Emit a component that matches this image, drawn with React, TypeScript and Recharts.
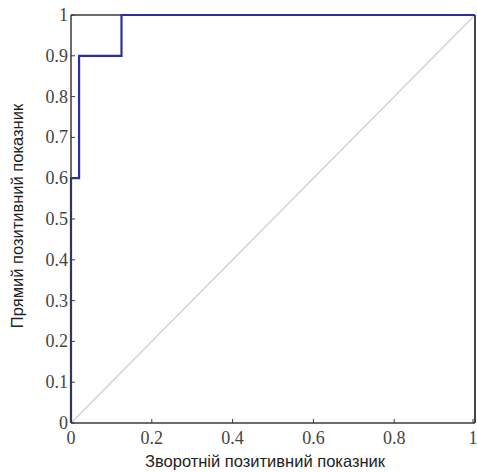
import React from "react";
import { LineChart, Line, XAxis, YAxis, ReferenceLine } from "recharts";

const rocX = [0, 0, 0.02, 0.02, 0.125, 0.125, 1];
const rocY = [0, 0.6, 0.6, 0.9, 0.9, 1, 1];
const diagX = [0, 1];
const diagY = [0, 1];
const xTicks = [0, 0.2, 0.4, 0.6, 0.8, 1];
const yTicks = [0, 0.1, 0.2, 0.3, 0.4, 0.5, 0.6, 0.7, 0.8, 0.9, 1];
const xLabel = "Зворотній позитивний показник";
const yLabel = "Прямий позитивний показник";

const rocData = rocX.map((x, i) => ({ x, y: rocY[i] }));
const diagData = diagX.map((x, i) => ({ x, y: diagY[i] }));

const AXIS = "#3a3a3a";
const SERIF = "Liberation Serif, Times New Roman, DejaVu Serif, serif";
const SANS = "Liberation Sans, Arial, sans-serif";

const fmt = (v: number) => String(v);

const renderBottomTick = (props: any) => {
  const { x, y, payload } = props;
  return (
    <g>
      <line x1={x} x2={x} y1={y} y2={y - 4} stroke={AXIS} strokeWidth={1} />
      <text x={x} y={y + 21} textAnchor="middle" style={{ fontFamily: SERIF, fontSize: 18 }} fill="#444">
        {fmt(payload.value)}
      </text>
    </g>
  );
};

const renderLeftTick = (props: any) => {
  const { x, y, payload } = props;
  return (
    <g>
      <line x1={x} x2={x + 4} y1={y} y2={y} stroke={AXIS} strokeWidth={1} />
      <text x={x - 3} y={y + 6} textAnchor="end" style={{ fontFamily: SERIF, fontSize: 18 }} fill="#444">
        {fmt(payload.value)}
      </text>
    </g>
  );
};

const renderTopTick = (props: any) => {
  const { x, y } = props;
  return <line x1={x} x2={x} y1={y} y2={y + 4} stroke={AXIS} strokeWidth={1} />;
};

const renderRightTick = (props: any) => {
  const { x, y } = props;
  return <line x1={x} x2={x - 4} y1={y} y2={y} stroke={AXIS} strokeWidth={1} />;
};

export default function App() {
  return (
    <div style={{ position: "absolute", left: 0, top: 0, width: 477, height: 472, background: "#fff" }}>
      <LineChart width={477} height={472} margin={{ top: 15, right: 1, bottom: 19, left: 31 }}>
        <XAxis
          xAxisId="b"
          type="number"
          dataKey="x"
          domain={[0, 1]}
          ticks={xTicks}
          height={30}
          tickSize={0}
          tickMargin={0}
          tick={renderBottomTick}
          stroke={AXIS}
          strokeWidth={1.5}
        />
        <XAxis
          xAxisId="t"
          orientation="top"
          type="number"
          dataKey="x"
          domain={[0, 1]}
          ticks={xTicks}
          height={0}
          tickSize={0}
          tickMargin={0}
          tick={renderTopTick}
          stroke={AXIS}
          strokeWidth={1.5}
        />
        <YAxis
          yAxisId="l"
          type="number"
          domain={[0, 1]}
          ticks={yTicks}
          width={40}
          tickSize={0}
          tickMargin={0}
          tick={renderLeftTick}
          stroke={AXIS}
          strokeWidth={1.5}
        />
        <YAxis
          yAxisId="r"
          orientation="right"
          type="number"
          domain={[0, 1]}
          ticks={yTicks}
          width={1}
          tickSize={0}
          tickMargin={0}
          tick={renderRightTick}
          stroke={AXIS}
          strokeWidth={1.5}
        />
        <ReferenceLine xAxisId="b" yAxisId="l" x={1} stroke={AXIS} strokeWidth={1.5} />
        <ReferenceLine xAxisId="b" yAxisId="l" y={1} stroke={AXIS} strokeWidth={1.5} />
        <Line
          xAxisId="b"
          yAxisId="l"
          data={diagData}
          dataKey="y"
          type="linear"
          stroke="#cfcfcf"
          strokeWidth={1.2}
          dot={false}
          isAnimationActive={false}
        />
        <Line
          xAxisId="b"
          yAxisId="l"
          data={rocData}
          dataKey="y"
          type="linear"
          stroke="#2a2fa6"
          strokeWidth={2.2}
          dot={false}
          isAnimationActive={false}
        />
        <text x={265} y={467} textAnchor="middle" style={{ fontFamily: SANS, fontSize: 16.5 }} fill="#222">
          {xLabel}
        </text>
        <text
          x={0}
          y={0}
          transform="translate(23,216) rotate(-90)"
          textAnchor="middle"
          style={{ fontFamily: SANS, fontSize: 16.5 }}
          fill="#222"
        >
          {yLabel}
        </text>
      </LineChart>
    </div>
  );
}
